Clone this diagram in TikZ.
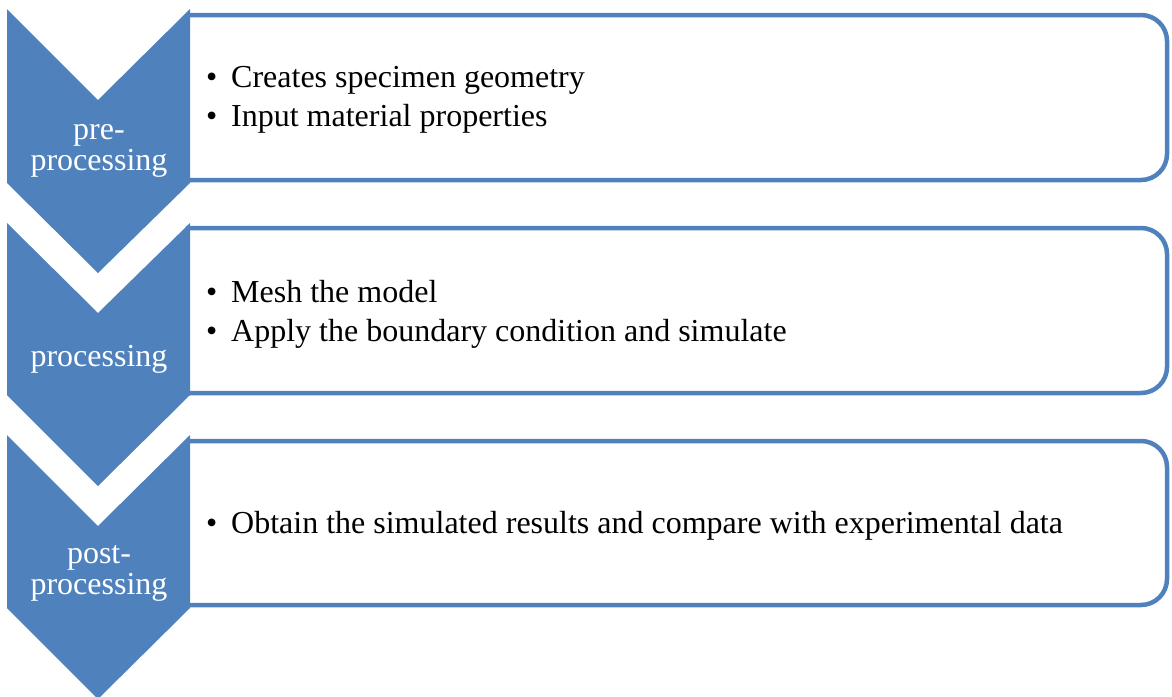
\documentclass[tikz,border=0pt]{standalone}
\usepackage{fontspec}
\setmainfont{Liberation Serif}
\definecolor{obl}{HTML}{4F81BD}
\newcommand{\bul}{\makebox[25pt][l]{•}}
\begin{document}
\begin{tikzpicture}[x=1pt,y=-1pt,
  chev/.style={fill=obl,draw=none},
  boxs/.style={draw=obl,line width=4.5pt,fill=white,rounded corners=26pt},
  lab/.style={text=white,align=center,font=\fontsize{32}{31}\selectfont,inner sep=0pt},
  items/.style={anchor=west,align=left,font=\fontsize{32}{39}\selectfont,inner sep=0pt}]
\useasboundingbox (0,0) rectangle (1172,696);
% boxes
\draw[boxs] (186,15) -- (1167,15) -- (1167,180) -- (186,180);
\draw[boxs] (186,228) -- (1167,228) -- (1167,393) -- (186,393);
\draw[boxs] (186,441) -- (1167,441) -- (1167,605) -- (186,605);
% chevrons
\fill[chev] (7,9) -- (98,100) -- (190,9) -- (190,183) -- (98,273) -- (7,183) -- cycle;
\fill[chev] (7,223) -- (98,313) -- (190,223) -- (190,395) -- (98,486) -- (7,395) -- cycle;
\fill[chev] (7,435) -- (98,526) -- (190,435) -- (190,608) -- (98,699) -- (7,608) -- cycle;
% labels
\node[lab] (l1) at (99,151) {pre-\\processing};
\node[lab] (l2) at (99,359) {processing};
\node[lab] (l3) at (99,573) {post-\\processing};
% items
\node[items] (t1) at (206,100) {\bul Creates specimen geometry\\\bul Input material properties};
\node[items] (t2) at (206,314) {\bul Mesh the model\\\bul Apply the boundary condition and simulate};
\node[items] (t3) at (206,526) {\bul Obtain the simulated results and compare with experimental data};
\end{tikzpicture}
\end{document}
